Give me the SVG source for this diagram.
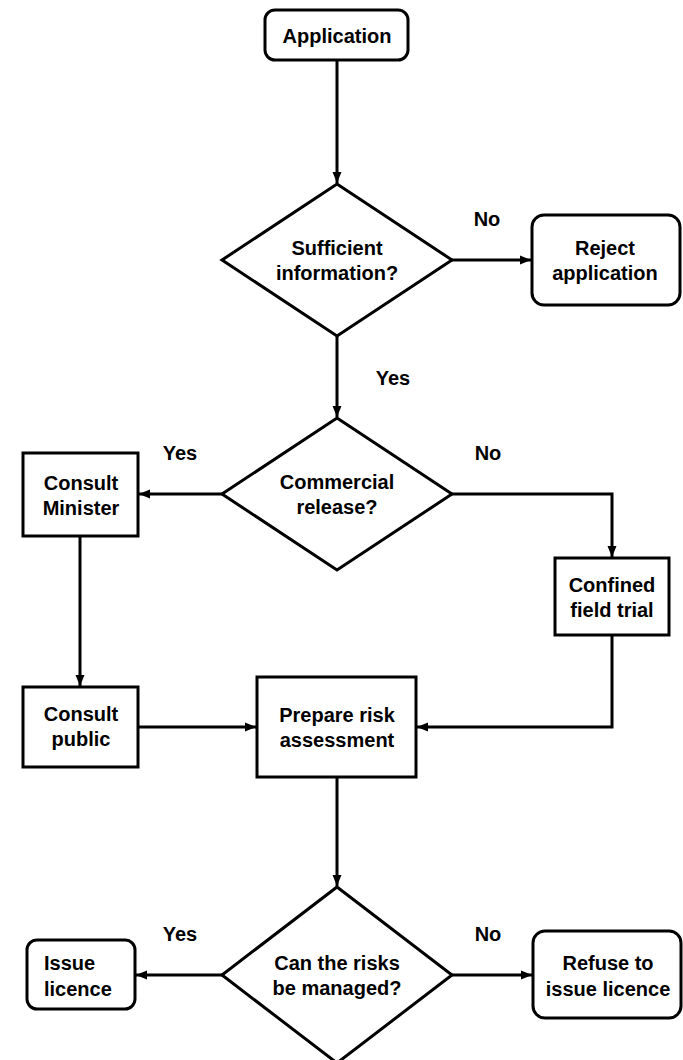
<svg xmlns="http://www.w3.org/2000/svg" width="683" height="1060" viewBox="0 0 683 1060">
<style>
.shape{fill:#fff;stroke:#000;stroke-width:3}
.conn{fill:none;stroke:#000;stroke-width:3;marker-end:url(#arr)}
text{font-family:"Liberation Sans",Arial,sans-serif;font-weight:bold;font-size:20px;fill:#000;text-anchor:middle}
</style>
<defs>
<marker id="arr" markerUnits="userSpaceOnUse" markerWidth="12" markerHeight="12" viewBox="0 0 12 12" refX="11" refY="6" orient="auto">
<path d="M0,1.5 L11,6 L0,10.5 Z" fill="#000"/>
</marker>
</defs>
<rect width="683" height="1060" fill="#fff"/>
<g id="connectors">
<path class="conn" d="M337,61 L337,183"/>
<path class="conn" d="M452,260 L531,260"/>
<path class="conn" d="M337,336 L337,417"/>
<path class="conn" d="M222,494 L139,494"/>
<path class="conn" d="M452,494 L612,494 L612,557"/>
<path class="conn" d="M80,536 L80,686"/>
<path class="conn" d="M612,635 L612,727 L417,727"/>
<path class="conn" d="M138,727 L256,727"/>
<path class="conn" d="M337,777 L337,886"/>
<path class="conn" d="M222,975 L136,975"/>
<path class="conn" d="M452,975 L532,975"/>
</g>
<g id="labels">
<text x="487" y="226">No</text>
<text x="393" y="385">Yes</text>
<text x="180" y="460">Yes</text>
<text x="488" y="460">No</text>
<text x="180" y="941">Yes</text>
<text x="488" y="941">No</text>
</g>
<g id="application">
<rect class="shape" x="265" y="10" width="143" height="50" rx="10"/>
<text x="337" y="43">Application</text>
</g>
<g id="sufficient">
<polygon class="shape" points="337,184 452,260 337,336 222,260"/>
<text x="337" y="255">Sufficient</text>
<text x="337" y="280">information?</text>
</g>
<g id="reject">
<rect class="shape" x="532" y="215" width="148" height="90" rx="12"/>
<text x="605" y="255">Reject</text>
<text x="605" y="280">application</text>
</g>
<g id="commercial">
<polygon class="shape" points="337,418 452,494 337,570 222,494"/>
<text x="337" y="489">Commercial</text>
<text x="337" y="514">release?</text>
</g>
<g id="consult-minister">
<rect class="shape" x="23" y="453" width="115" height="83"/>
<text x="81" y="490">Consult</text>
<text x="81" y="515">Minister</text>
</g>
<g id="confined">
<rect class="shape" x="555" y="558" width="114" height="77"/>
<text x="612" y="592">Confined</text>
<text x="612" y="617">field trial</text>
</g>
<g id="consult-public">
<rect class="shape" x="23" y="687" width="115" height="80"/>
<text x="81" y="721">Consult</text>
<text x="81" y="746">public</text>
</g>
<g id="prepare">
<rect class="shape" x="257" y="677" width="159" height="100"/>
<text x="337" y="722">Prepare risk</text>
<text x="337" y="747">assessment</text>
</g>
<g id="managed">
<polygon class="shape" points="337,887 452,975 337,1063 222,975"/>
<text x="337" y="970">Can the risks</text>
<text x="337" y="995">be managed?</text>
</g>
<g id="issue">
<rect class="shape" x="27" y="940" width="108" height="69" rx="10"/>
<text x="44" y="970" style="text-anchor:start">Issue</text>
<text x="44" y="996" style="text-anchor:start">licence</text>
</g>
<g id="refuse">
<rect class="shape" x="533" y="931" width="148" height="87" rx="12"/>
<text x="608" y="970">Refuse to</text>
<text x="608" y="996">issue licence</text>
</g>
</svg>
